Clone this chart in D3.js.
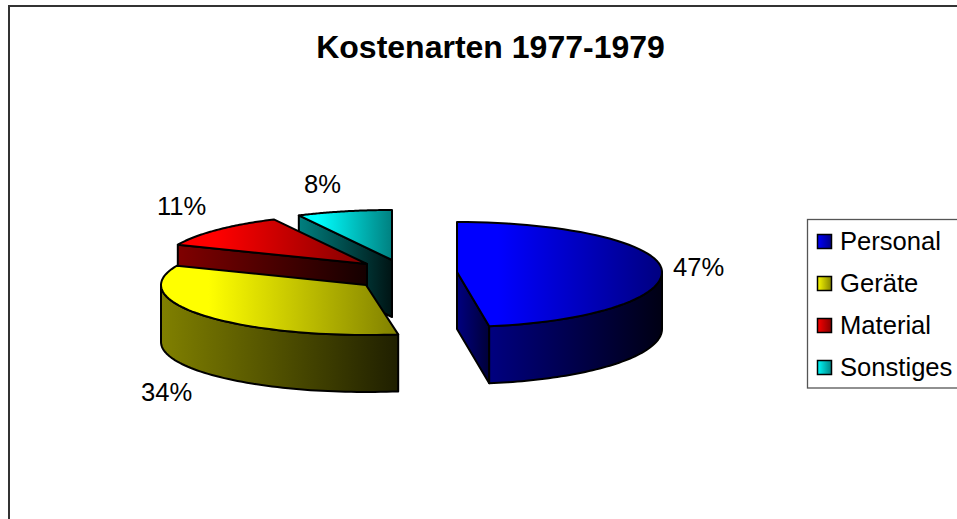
<!DOCTYPE html>
<html><head><meta charset="utf-8">
<style>html,body{margin:0;padding:0;background:#fff}svg{display:block}text{font-family:"Liberation Sans",Arial,sans-serif;fill:#000}</style>
<script src="https://cdn.jsdelivr.net/npm/d3@7"></script></head><body><script>
const title = "Kostenarten 1977-1979";
const categories = ["Personal","Geräte","Material","Sonstiges"];
const shares = [47.49, 33.8, 11.2, 7.51];
const labels = ["47%","34%","11%","8%"];
const baseColors = ["#0000ff","#ffff00","#ff0000","#00ffff"];

const W=957,H=519,RX=205,RYB=50,DEPTH=57;
const frontRadius=[55,50,53,53];
const centers=[[457,272],[366,285],[367,264],[392,260]];
const labelPos=[[673,276],[141,401],[157,215],[304,193]];

const svg=d3.select("body").append("svg").attr("width",W).attr("height",H);
const defs=svg.append("defs");
const shade=(c,k)=>{const r=d3.rgb(c);return d3.rgb(r.r*k,r.g*k,r.b*k).formatHex();};
function grad(id,from,to,x1,x2,hold){
  const g=defs.append("linearGradient").attr("id",id).attr("gradientUnits","userSpaceOnUse")
    .attr("x1",x1).attr("x2",x2).attr("y1",0).attr("y2",0);
  g.append("stop").attr("offset",hold||0).attr("stop-color",from);
  g.append("stop").attr("offset",1).attr("stop-color",to);
  return `url(#${id})`;
}
svg.append("rect").attr("x",9).attr("y",6).attr("width",W+20).attr("height",H+20)
  .attr("fill","#fff").attr("stroke","#333").attr("stroke-width",2);
svg.append("text").attr("x",490.5).attr("y",57.5).attr("text-anchor","middle")
  .attr("font-size",32).attr("font-weight","bold").text(title);

const arcs=d3.pie().sort(null).value(d=>d)(shares);
const pt=(i,a)=>{const[c,d]=centers[i];const co=Math.cos(a);
  return [c+RX*Math.sin(a),d-(co>0?RYB:frontRadius[i])*co];};
const line=d3.line();
const samples=(a0,a1)=>d3.range(0,61).map(k=>a0+(a1-a0)*k/60);
const sl=svg.append("g").attr("stroke","#000").attr("stroke-width",2).attr("stroke-linejoin","round");
const PI=Math.PI;
[3,2,1,0].forEach(i=>{
  const a=arcs[i],c=centers[i],col=baseColors[i];
  const rim=samples(a.startAngle,a.endAngle).map(t=>pt(i,t));
  const xs=rim.map(p=>p[0]).concat(c[0]);const x0=d3.min(xs),x1=d3.max(xs);
  const mid=shade(col,0.5);
  const wallFill=grad("w"+i,mid,shade(col,0.08),x0,x1);
  const edgeA = i===0 ? a.endAngle : a.startAngle;
  if(i!==1){
    const e=pt(i,edgeA);
    sl.append("path").attr("fill",i===0?grad("e"+i,mid,shade(col,0.22),c[0],e[0]):wallFill)
      .attr("d",line([c,e,[e[0],e[1]+DEPTH],[c[0],c[1]+DEPTH]])+"Z");
  }
  const f0=Math.max(a.startAngle,PI/2),f1=Math.min(a.endAngle,3*PI/2);
  if(f1>f0){
    const top=samples(f0,f1).map(t=>pt(i,t));
    const bottom=top.map(p=>[p[0],p[1]+DEPTH]).reverse();
    const gx0=d3.min(top,p=>p[0]),gx1=d3.max(top,p=>p[0]);
    sl.append("path").attr("fill",grad("r"+i,mid,shade(col,i===0?0.08:0.12),gx0,gx1))
      .attr("d",line(top.concat(bottom))+"Z");
  }
  sl.append("path").attr("fill",grad("t"+i,col,mid,x0,x1,0.2))
    .attr("d",line([c].concat(rim))+"Z");
});
labels.forEach((t,i)=>svg.append("text").attr("x",labelPos[i][0]).attr("y",labelPos[i][1])
  .attr("font-size",25.6).text(t));

const y=d3.scalePoint().domain(categories).range([241,367]);
const lg=svg.append("g");
lg.append("rect").attr("x",807.5).attr("y",219.5).attr("width",W).attr("height",168.5)
  .attr("fill","#fff").attr("stroke","#555").attr("stroke-width",1.3);
categories.forEach((c,i)=>{
  lg.append("rect").attr("x",817.5).attr("y",y(c)-6.5).attr("width",14).attr("height",14)
    .attr("fill",grad("l"+i,baseColors[i],shade(baseColors[i],0.5),817,832))
    .attr("stroke","#000").attr("stroke-width",1.5);
  lg.append("text").attr("x",840).attr("y",y(c)+9).attr("font-size",25.6).text(c);
});
</script></body></html>
